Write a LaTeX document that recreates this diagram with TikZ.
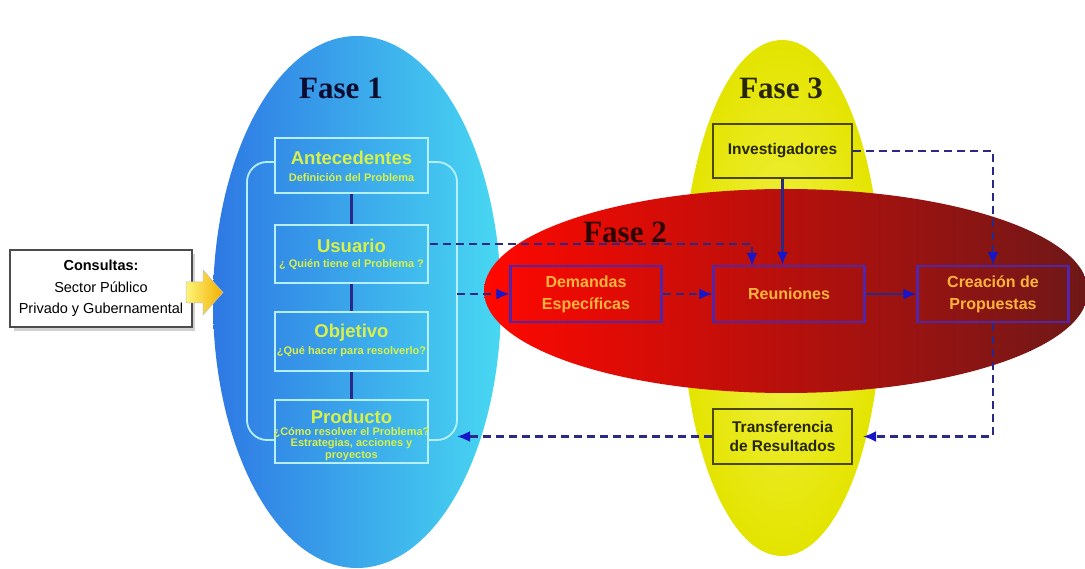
\documentclass[tikz,border=0pt]{standalone}
\usepackage{fontspec}
\setmainfont{Liberation Serif}
\setsansfont{Liberation Sans}
\usetikzlibrary{arrows.meta,calc}
\definecolor{blueL}{HTML}{2E78E4}
\definecolor{blueR}{HTML}{48D8F2}
\definecolor{p1line}{HTML}{B6F0FF}
\definecolor{p1text}{HTML}{D8F04A}
\definecolor{redL}{HTML}{FF0800}
\definecolor{redM}{HTML}{D80A0A}
\definecolor{redR}{HTML}{6E1818}
\definecolor{yel}{HTML}{E4E400}
\definecolor{yelL}{HTML}{F2F250}
\definecolor{navy}{HTML}{2A2A86}
\definecolor{tipblue}{HTML}{1616C8}
\definecolor{p2line}{HTML}{5226A6}
\definecolor{p2text}{HTML}{FFB43C}
\definecolor{p3line}{HTML}{4C4800}
\definecolor{p3text}{HTML}{262600}
\definecolor{fase1}{HTML}{0C0C30}
\definecolor{fase2}{HTML}{2C0404}
\definecolor{arrL}{HTML}{FFF47A}
\definecolor{arrR}{HTML}{F2B000}
\begin{document}
\begin{tikzpicture}[x=1pt,y=-1pt,
  p1box/.style={draw=p1line, line width=2pt, minimum width=153pt, inner sep=0pt},
  p1title/.style={text=p1text, font=\fontsize{18.5}{19}\selectfont\sffamily\bfseries, inner sep=0pt},
  p1sub/.style={text=p1text, font=\fontsize{11}{11.5}\selectfont\sffamily\bfseries, align=center, inner sep=0pt},
  p2box/.style={draw=p2line, line width=2.2pt, minimum width=151pt, minimum height=56pt, inner sep=0pt, text=p2text, font=\fontsize{16}{22}\selectfont\sffamily\bfseries, align=center},
  p3box/.style={draw=p3line, line width=2.2pt, minimum width=139pt, minimum height=55pt, inner sep=0pt, text=p3text, font=\fontsize{15.5}{19.5}\selectfont\sffamily\bfseries, align=center},
  fase/.style={font=\fontsize{31}{31}\selectfont\rmfamily\bfseries, inner sep=0pt},
  dline/.style={draw=navy, line width=2.2pt, dash pattern=on 8pt off 5pt},
  sline/.style={draw=navy, line width=2.2pt},
  tip/.style={-{Latex[length=13pt,width=11pt,color=tipblue]}},
  brk/.style={draw=p1line, line width=1.8pt, rounded corners=20pt},
  conbox/.style={draw=black!70, line width=2pt, fill=white, minimum width=182pt, minimum height=77pt, inner sep=0pt, align=center, font=\fontsize{14.5}{21.5}\selectfont\sffamily}
]
\useasboundingbox (0,0) rectangle (1085,569);
\fill[white] (0,0) rectangle (1085,569);

% ellipses
\shade[left color=blueL, right color=blueR] (357,302) ellipse [x radius=144pt, y radius=266pt];
\shade[inner color=yelL, outer color=yel] (782,298) ellipse [x radius=100pt, y radius=258pt];
\shade[left color=redL, middle color=redM, right color=redR] (786,291) ellipse [x radius=302pt, y radius=102pt];

% phase titles
\node[fase, text=fase1] (f1) at (341,88) {Fase 1};
\node[fase, text=p3text] (f3) at (781,88) {Fase 3};
\node[fase, text=fase2] (f2) at (625,232) {Fase 2};

% consultas
\fill[black!18] (14,254) rectangle (195,331);
\node[conbox] (con) at (101,288.5) {\textbf{Consultas:}\\Sector Público\\Privado y Gubernamental};
\path[left color=arrL, right color=arrR, draw=black!25, line width=0.5pt]
  (186,282) -- (203,282) -- (203,270) -- (223,292.5) -- (203,315) -- (203,303) -- (186,303) -- cycle;

% Fase 1 brackets
\coordinate (bl1) at (275,162); \coordinate (bl2) at (247,162);
\coordinate (bl3) at (247,440); \coordinate (bl4) at (275,440);
\coordinate (br1) at (428,162); \coordinate (br2) at (457,162);
\coordinate (br3) at (457,440); \coordinate (br4) at (428,440);
\draw[brk] (bl1) -- (bl2) -- (bl3) -- (bl4);
\draw[brk] (br1) -- (br2) -- (br3) -- (br4);

% Fase 1 boxes
\node[p1box, minimum height=55pt] (ant) at (351.5,165.5) {};
\node[p1box, minimum height=58pt] (usu) at (351.5,254) {};
\node[p1box, minimum height=59pt] (obj) at (351.5,342) {};
\node[p1box, minimum height=63pt] (pro) at (351.5,431.5) {};
\node[p1title] (antT) at (351.5,158) {Antecedentes};
\node[p1sub] (antS) at (351.5,178) {Definición del Problema};
\node[p1title] (usuT) at (351.5,246) {Usuario};
\node[p1sub] (usuS) at (351.5,265) {¿ Quién tiene el Problema ?};
\node[p1title] (objT) at (351.5,333) {Objetivo};
\node[p1sub] (objS) at (351.5,352) {¿Qué hacer para resolverlo?};
\node[p1title] (proT) at (351.5,417) {Producto};
\node[p1sub] (proS) at (351.5,444) {¿Cómo resolver el Problema?\\Estrategias, acciones y\\proyectos};
\draw[sline] (ant.south) -- (usu.north);
\draw[sline] (usu.south) -- (obj.north);
\draw[sline] (obj.south) -- (pro.north);

% Fase 2 boxes
\node[p2box] (dem) at (586,294) {Demandas\\Específicas};
\node[p2box] (reu) at (789,294) {Reuniones};
\node[p2box] (cre) at (993,294) {Creación de\\Propuestas};

% Fase 3 boxes
\node[p3box, minimum height=54pt] (inv) at (782.5,151) {Investigadores};
\node[p3box] (tra) at (782.5,436.5) {Transferencia\\de Resultados};

% connectors
\coordinate (usuOut) at (430,244);
\coordinate (reuIn) at (752,266);
\draw[dline, tip] (usuOut) -| (reuIn);
\coordinate (brOut) at (457,294);
\draw[dline, tip] (brOut) -- (dem.west);
\draw[dline, tip] (dem.east) -- (reu.west);
\draw[sline, tip] (reu.east) -- (cre.west);
\draw[sline, tip] (inv.south) -- (inv.south |- reu.north);
\draw[dline, tip] (inv.east) -| (cre.north);
\draw[dline, tip, shorten >=10pt] (cre.south) |- (tra.east);
\coordinate (proIn) at (457,436.5);
\draw[dline, tip] (tra.west) -- (proIn);
\end{tikzpicture}
\end{document}
